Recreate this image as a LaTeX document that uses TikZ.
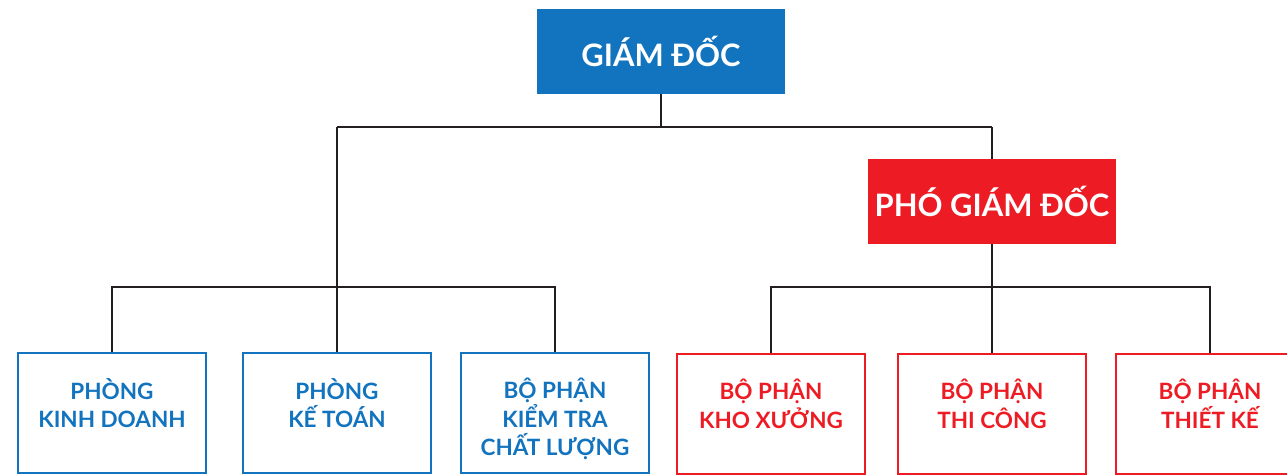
\documentclass[tikz,border=0pt]{standalone}
\usepackage{fontspec}
\setmainfont{Lato}
\definecolor{cblue}{HTML}{1273BE}
\definecolor{cred}{HTML}{ED1C24}
\definecolor{cline}{HTML}{231F20}
\tikzset{
  topbox/.style={rectangle, minimum width=6.2cm, minimum height=2.125cm, inner sep=0pt, text=white, font=\fontsize{22}{26}\selectfont\bfseries},
  bluebox/.style={rectangle, draw=cblue, line width=1.8pt, minimum width=4.7cm, minimum height=3cm},
  redbox/.style={rectangle, draw=cred, line width=1.8pt, minimum width=4.7cm, minimum height=3cm},
  lbl/.style={anchor=north, align=center, inner sep=0pt, font=\fontsize{16}{20}\selectfont\bfseries},
  conn/.style={draw=cline, line width=2.1pt}
}
\begin{document}
\begin{tikzpicture}[x=0.025cm,y=-0.025cm]
\useasboundingbox (0,0) rectangle (1287,475);
\clip (0,0) rectangle (1287,475);
% top
\node[topbox, fill=cblue] (gd) at (661,51.5) {GIÁM ĐỐC};
\node[topbox, fill=cred] (pgd) at (992,201.5) {PHÓ GIÁM ĐỐC};
% bottom boxes
\node[bluebox] (b1) at (112,413) {};
\node[bluebox] (b2) at (337,413) {};
\node[bluebox] (b3) at (555,413) {};
\node[redbox] (r1) at (771,414) {};
\node[redbox] (r2) at (992,414) {};
\node[redbox] (r3) at (1210,414) {};
\node[lbl, text=cblue] (t1) at ([yshift=-0.66cm]b1.north) {PHÒNG\\KINH DOANH};
\node[lbl, text=cblue] (t2) at ([yshift=-0.66cm]b2.north) {PHÒNG\\KẾ TOÁN};
\node[lbl, text=cblue] (t3) at ([yshift=-0.66cm]b3.north) {BỘ PHẬN\\KIỂM TRA\\CHẤT LƯỢNG};
\node[lbl, text=cred] (t4) at ([yshift=-0.66cm]r1.north) {BỘ PHẬN\\KHO XƯỞNG};
\node[lbl, text=cred] (t5) at ([yshift=-0.66cm]r2.north) {BỘ PHẬN\\THI CÔNG};
\node[lbl, text=cred] (t6) at ([yshift=-0.66cm]r3.north) {BỘ PHẬN\\THIẾT KẾ};
% connectors
\coordinate (busL) at (337,127);
\coordinate (busR) at (992,127);
\draw[conn] (gd.south) -- (gd.south |- busL);
\draw[conn] (busL) -- (busR);
\draw[conn] (busR) -- (pgd.north);
\draw[conn] (busL) -- (b2.north);
\draw[conn] (b1.north) -- (b1.north |- 0,287) -| (b3.north);
\draw[conn] (pgd.south) -- (r2.north);
\draw[conn] (r1.north) -- (r1.north |- 0,287) -| (r3.north);
\end{tikzpicture}
\end{document}
